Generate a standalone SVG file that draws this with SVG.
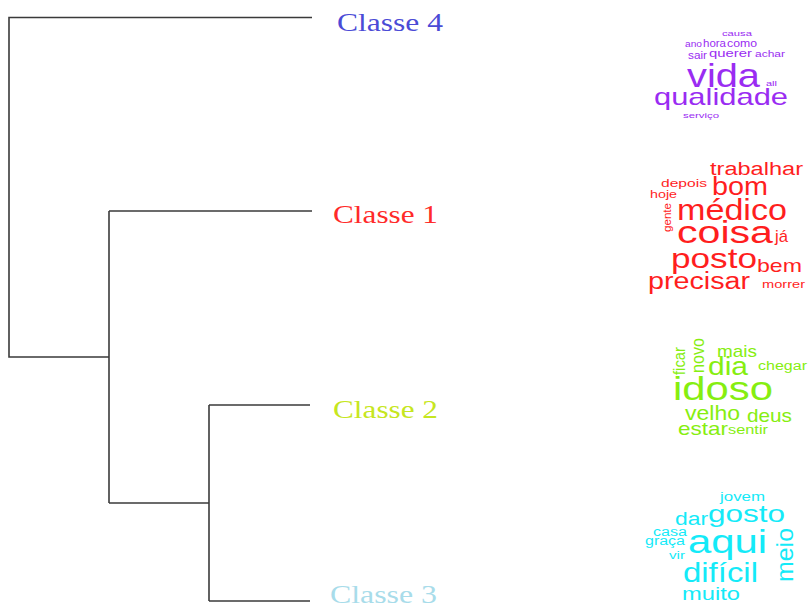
<svg xmlns="http://www.w3.org/2000/svg" width="811" height="607" viewBox="0 0 811 607">
<style>
.tree{fill:none;stroke:#3a3a3a;stroke-width:1.6}
.lbl{font-family:"Liberation Serif","Times New Roman",serif;font-size:26px}
.w{font-family:"Liberation Sans",Arial,sans-serif}
.c4{fill:#9a2cf2}
.c1{fill:#ff1e1e}
.c2{fill:#86ee10}
.c3{fill:#14eaf8}
</style>
<rect width="811" height="607" fill="#ffffff"/>
<g id="connectors" class="tree">
<path d="M312,17.5 H9 V357 H109"/>
<path d="M109,211 V503"/>
<path d="M109,211 H312"/>
<path d="M109,503 H209"/>
<path d="M209,405 V601"/>
<path d="M209,405 H310"/>
<path d="M209,601 H310"/>
</g>
<g id="classe4">
<text class="lbl" x="337" y="31" fill="#4b4bd6" textLength="106" lengthAdjust="spacingAndGlyphs">Classe 4</text>
<g class="w c4">
<text x="722" y="36" font-size="8" textLength="30" lengthAdjust="spacingAndGlyphs">causa</text>
<text x="685" y="47" font-size="9" textLength="17" lengthAdjust="spacingAndGlyphs">ano</text>
<text x="703" y="47" font-size="10" textLength="23" lengthAdjust="spacingAndGlyphs">hora</text>
<text x="727" y="47" font-size="10" textLength="30" lengthAdjust="spacingAndGlyphs">como</text>
<text x="688" y="59" font-size="11" textLength="19" lengthAdjust="spacingAndGlyphs">sair</text>
<text x="709" y="57" font-size="11" textLength="43" lengthAdjust="spacingAndGlyphs">querer</text>
<text x="755" y="57" font-size="9" textLength="30" lengthAdjust="spacingAndGlyphs">achar</text>
<text x="687" y="86.5" font-size="34" textLength="73" lengthAdjust="spacingAndGlyphs">vida</text>
<text x="766" y="86" font-size="7" textLength="11" lengthAdjust="spacingAndGlyphs">all</text>
<text x="654" y="105" font-size="24" textLength="134" lengthAdjust="spacingAndGlyphs">qualidade</text>
<text x="683" y="118" font-size="8" textLength="36" lengthAdjust="spacingAndGlyphs">serviço</text>
</g>
</g>
<g id="classe1">
<text class="lbl" x="333" y="223" fill="#ff2a2a" textLength="105" lengthAdjust="spacingAndGlyphs">Classe 1</text>
<g class="w c1">
<text x="710" y="175" font-size="18" textLength="93" lengthAdjust="spacingAndGlyphs">trabalhar</text>
<text x="661" y="187" font-size="11" textLength="46" lengthAdjust="spacingAndGlyphs">depois</text>
<text x="712" y="195" font-size="25" textLength="56" lengthAdjust="spacingAndGlyphs">bom</text>
<text x="650" y="198" font-size="11" textLength="27" lengthAdjust="spacingAndGlyphs">hoje</text>
<text x="677" y="220" font-size="30" textLength="110" lengthAdjust="spacingAndGlyphs">médico</text>
<text transform="translate(671,232) rotate(-90)" font-size="11" textLength="29" lengthAdjust="spacingAndGlyphs">gente</text>
<text x="677" y="243" font-size="31" textLength="96" lengthAdjust="spacingAndGlyphs">coisa</text>
<text x="775" y="242" font-size="17" textLength="13" lengthAdjust="spacingAndGlyphs">já</text>
<text x="671" y="268" font-size="28" textLength="86" lengthAdjust="spacingAndGlyphs">posto</text>
<text x="757" y="272" font-size="19" textLength="45" lengthAdjust="spacingAndGlyphs">bem</text>
<text x="648" y="289" font-size="23" textLength="102" lengthAdjust="spacingAndGlyphs">precisar</text>
<text x="762" y="288" font-size="11" textLength="43" lengthAdjust="spacingAndGlyphs">morrer</text>
</g>
</g>
<g id="classe2">
<text class="lbl" x="333" y="418" fill="#c6e620" textLength="105" lengthAdjust="spacingAndGlyphs">Classe 2</text>
<g class="w c2">
<text transform="translate(685,375) rotate(-90)" font-size="16" textLength="28" lengthAdjust="spacingAndGlyphs">ficar</text>
<text transform="translate(704,373) rotate(-90)" font-size="19" textLength="35" lengthAdjust="spacingAndGlyphs">novo</text>
<text x="717" y="357" font-size="17" textLength="40" lengthAdjust="spacingAndGlyphs">mais</text>
<text x="708" y="375" font-size="25" textLength="40" lengthAdjust="spacingAndGlyphs">dia</text>
<text x="758" y="370" font-size="12" textLength="49" lengthAdjust="spacingAndGlyphs">chegar</text>
<text x="673" y="400" font-size="33" textLength="100" lengthAdjust="spacingAndGlyphs">idoso</text>
<text x="685" y="420" font-size="20" textLength="55" lengthAdjust="spacingAndGlyphs">velho</text>
<text x="747" y="422" font-size="19" textLength="45" lengthAdjust="spacingAndGlyphs">deus</text>
<text x="678" y="435" font-size="19" textLength="50" lengthAdjust="spacingAndGlyphs">estar</text>
<text x="728" y="434" font-size="12" textLength="40" lengthAdjust="spacingAndGlyphs">sentir</text>
</g>
</g>
<g id="classe3">
<text class="lbl" x="330" y="603" fill="#a8dcea" textLength="107" lengthAdjust="spacingAndGlyphs">Classe 3</text>
<g class="w c3">
<text x="720" y="501" font-size="12" textLength="45" lengthAdjust="spacingAndGlyphs">jovem</text>
<text x="675" y="525" font-size="18" textLength="33" lengthAdjust="spacingAndGlyphs">dar</text>
<text x="708" y="522" font-size="24" textLength="77" lengthAdjust="spacingAndGlyphs">gosto</text>
<text x="653" y="536" font-size="12" textLength="34" lengthAdjust="spacingAndGlyphs">casa</text>
<text x="645" y="545" font-size="12" textLength="40" lengthAdjust="spacingAndGlyphs">graça</text>
<text x="688" y="553" font-size="33" textLength="79" lengthAdjust="spacingAndGlyphs">aqui</text>
<text x="669" y="559" font-size="10" textLength="16" lengthAdjust="spacingAndGlyphs">vir</text>
<text transform="translate(793,582) rotate(-90)" font-size="24" textLength="54" lengthAdjust="spacingAndGlyphs">meio</text>
<text x="683" y="582" font-size="27" textLength="75" lengthAdjust="spacingAndGlyphs">difícil</text>
<text x="682" y="600" font-size="19" textLength="58" lengthAdjust="spacingAndGlyphs">muito</text>
</g>
</g>
</svg>
